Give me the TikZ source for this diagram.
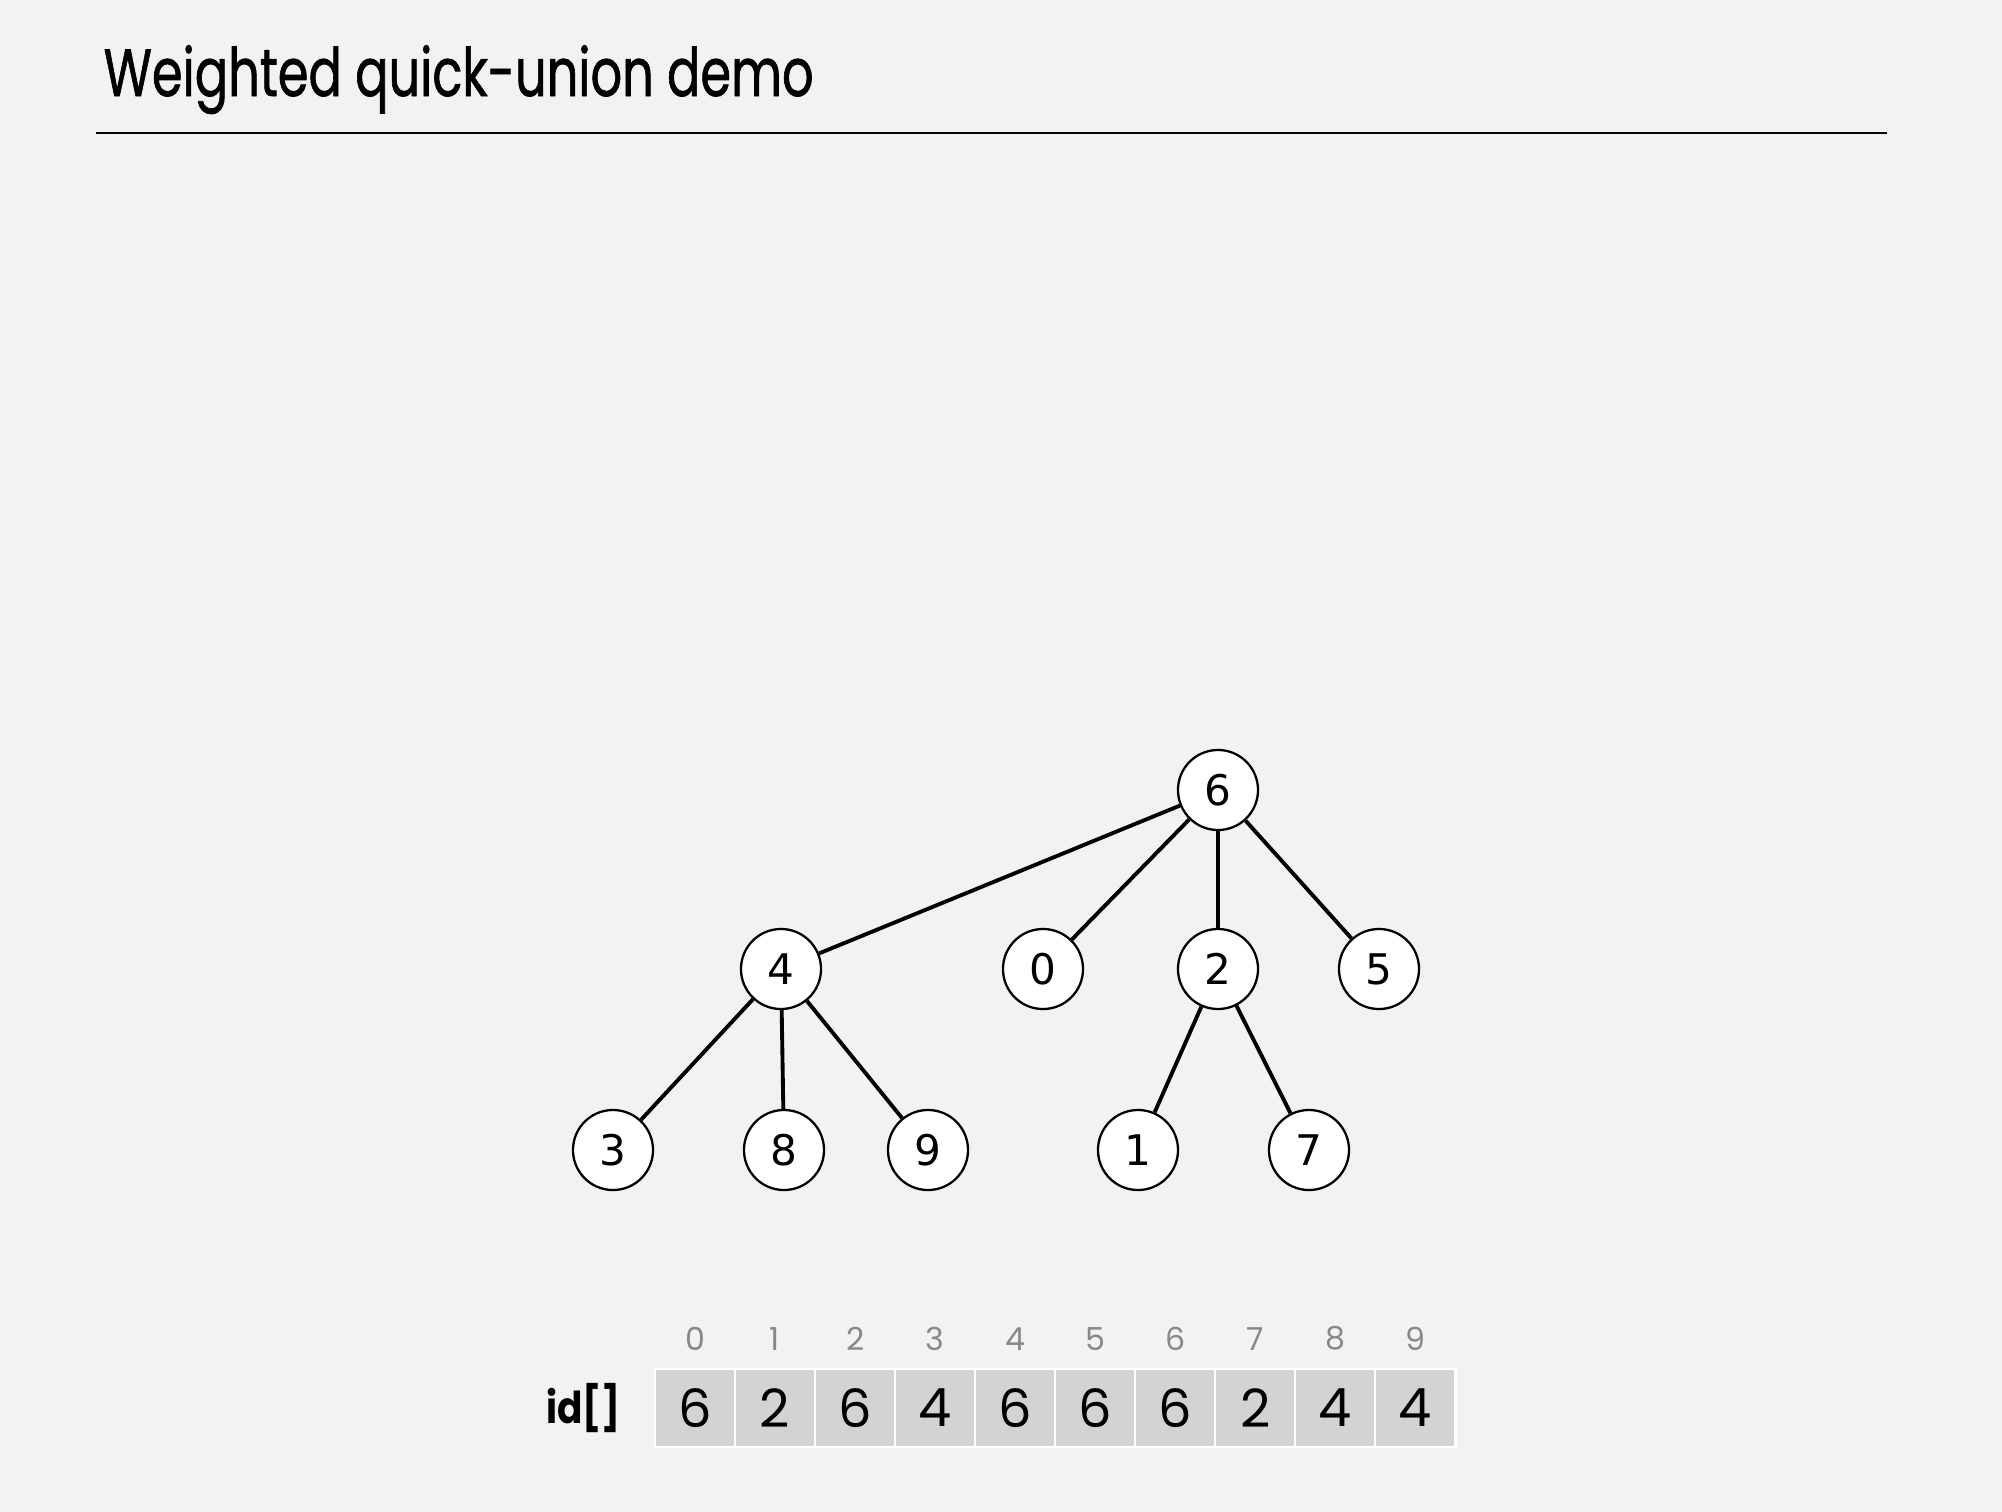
\documentclass[tikz,border=0pt]{standalone}
\usepackage{fontspec}
\usepackage{xcolor}
\usetikzlibrary{positioning}
\setmainfont{Poppins}
\newfontfamily\titlefont{Poppins}[FakeBold=1.2]
\newfontfamily\nodefont{DejaVu Sans}
\definecolor{cback}{HTML}{F2F2F2}
\definecolor{ccell}{HTML}{D3D3D3}
\definecolor{cindex}{HTML}{888888}

\begin{document}
\begin{tikzpicture}[
  x=0.01cm, y=-0.01cm,
  vertex/.style={circle, draw, fill=white, line width=0.65pt,
                 minimum size=0.8cm, inner sep=0pt,
                 font=\nodefont\fontsize{12}{14}\selectfont},
  link/.style={line width=1.1pt},
  cell/.style={fill=ccell, draw=white, line width=0.6pt, outer sep=0pt,
               minimum width=0.8cm, minimum height=0.78cm, inner sep=0pt,
               font=\fontsize{15}{17}\selectfont},
  idx/.style={text=cindex, font=\fontsize{9}{10}\selectfont,
              above=0.06cm of #1},
  node distance=0pt
]
\fill[cback] (0,0) rectangle (2002,1512);

% title
\node[anchor=base west, inner sep=0pt, font=\titlefont\fontsize{19}{22}\selectfont] (title)
  at (103,96) {\scalebox{0.74}[1]{Weighted quick-union demo}};
\draw[line width=0.6pt] (96,133) -- (1887,133);

% tree
\node[vertex] (n6) at (1218,790) {6};
\node[vertex] (n4) at (781,969) {4};
\node[vertex] (n0) at (1043,969) {0};
\node[vertex] (n2) at (1218,969) {2};
\node[vertex] (n5) at (1379,969) {5};
\node[vertex] (n3) at (613,1150) {3};
\node[vertex] (n8) at (784,1150) {8};
\node[vertex] (n9) at (928,1150) {9};
\node[vertex] (n1) at (1138,1150) {1};
\node[vertex] (n7) at (1309,1150) {7};

\draw[link] (n6) -- (n4);
\draw[link] (n6) -- (n0);
\draw[link] (n6) -- (n2);
\draw[link] (n6) -- (n5);
\draw[link] (n4) -- (n3);
\draw[link] (n4) -- (n8);
\draw[link] (n4) -- (n9);
\draw[link] (n2) -- (n1);
\draw[link] (n2) -- (n7);

% id[] array
\node[cell] (c0) at (695,1408) {6};
\node[cell, right=of c0] (c1) {2};
\node[cell, right=of c1] (c2) {6};
\node[cell, right=of c2] (c3) {4};
\node[cell, right=of c3] (c4) {6};
\node[cell, right=of c4] (c5) {6};
\node[cell, right=of c5] (c6) {6};
\node[cell, right=of c6] (c7) {2};
\node[cell, right=of c7] (c8) {4};
\node[cell, right=of c8] (c9) {4};

\node[idx=c0] (i0) {0};
\node[idx=c1] (i1) {1};
\node[idx=c2] (i2) {2};
\node[idx=c3] (i3) {3};
\node[idx=c4] (i4) {4};
\node[idx=c5] (i5) {5};
\node[idx=c6] (i6) {6};
\node[idx=c7] (i7) {7};
\node[idx=c8] (i8) {8};
\node[idx=c9] (i9) {9};

\node[font=\bfseries\fontsize{12.5}{14}\selectfont, left=0.22cm of c0] (lbl)
  {\scalebox{0.85}[1]{id[]}};
\end{tikzpicture}
\end{document}
